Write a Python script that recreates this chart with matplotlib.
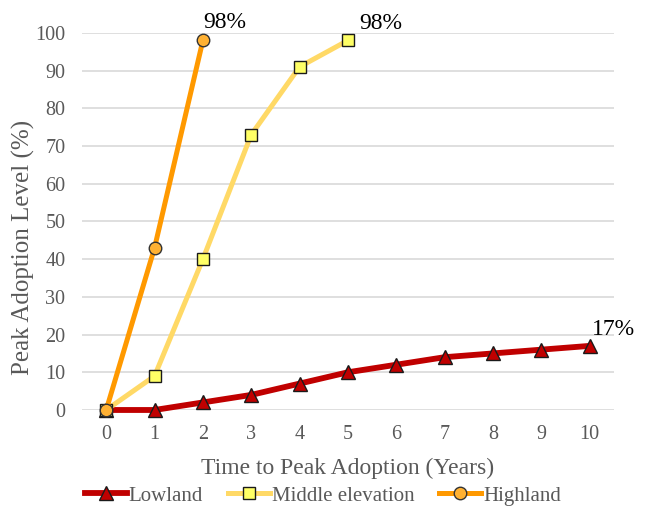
import matplotlib.pyplot as plt

# ------------------------------
# Data
# ------------------------------
YEARS = [0, 1, 2, 3, 4, 5, 6, 7, 8, 9, 10]
LOWLAND = [0, 0, 2, 4, 7, 10, 12, 14, 15, 16, 17]
MIDDLE = [0, 9, 40, 73, 91, 98]
HIGHLAND = [0, 43, 98]
Y_TICKS = [0, 10, 20, 30, 40, 50, 60, 70, 80, 90, 100]

plt.rcParams['font.family'] = ['Liberation Serif', 'DejaVu Serif']

fig = plt.figure(figsize=(6.46, 5.13), dpi=100)
ax = fig.add_axes([0.127, 0.2008, 0.823, 0.735])

ax.plot(YEARS, LOWLAND, color='#C00000', linewidth=4.2, marker='^',
        markersize=10.5, markerfacecolor='#C00000', markeredgecolor='#1a1a1a',
        markeredgewidth=1.0, label='Lowland', clip_on=False, zorder=3)
ax.plot(YEARS[:len(MIDDLE)], MIDDLE, color='#FFD966', linewidth=3.6, marker='s',
        markersize=8.5, markerfacecolor='#FFFF66', markeredgecolor='#1a1a1a',
        markeredgewidth=1.0, label='Middle elevation', clip_on=False, zorder=4)
ax.plot(YEARS[:len(HIGHLAND)], HIGHLAND, color='#FF9900', linewidth=3.6, marker='o',
        markersize=9, markerfacecolor='#FFB133', markeredgecolor='#333333',
        markeredgewidth=1.0, label='Highland', clip_on=False, zorder=5)

# end-point labels
ax.annotate(f"{HIGHLAND[-1]}%", (len(HIGHLAND) - 1, HIGHLAND[-1]), xytext=(0, 9),
            textcoords='offset points', fontsize=17, ha='left', va='baseline')
ax.annotate(f"{MIDDLE[-1]}%", (len(MIDDLE) - 1, MIDDLE[-1]), xytext=(8, 8),
            textcoords='offset points', fontsize=17, ha='left', va='baseline')
ax.annotate(f"{LOWLAND[-1]}%", (YEARS[-1], LOWLAND[-1]), xytext=(2, 8),
            textcoords='offset points', fontsize=17, ha='left', va='baseline')

ax.set_xlim(-0.5, 10.5)
ax.set_ylim(0, 100)
ax.set_xticks(YEARS)
ax.set_yticks(Y_TICKS)
ax.tick_params(length=0, labelsize=14.5, labelcolor='#595959')
ax.tick_params(axis='x', pad=11)
ax.tick_params(axis='y', pad=12)
for s in ax.spines.values():
    s.set_visible(False)
ax.grid(axis='y', color='#d9d9d9', linewidth=1.2)
ax.set_axisbelow(True)

ax.set_xlabel("Time to Peak Adoption (Years)", fontsize=17, color='#595959', labelpad=10)
ax.set_ylabel("Peak Adoption Level (%)", fontsize=18, color='#595959')
ax.yaxis.set_label_coords(-0.088, 0.43)

leg = fig.legend(loc='lower center', bbox_to_anchor=(0.5, -0.022), ncol=3,
                 frameon=False, fontsize=15, handlelength=2.0, handletextpad=0.1,
                 columnspacing=1.2)
for t in leg.get_texts():
    t.set_color('#595959')

fig.savefig('out.png', dpi=100)
